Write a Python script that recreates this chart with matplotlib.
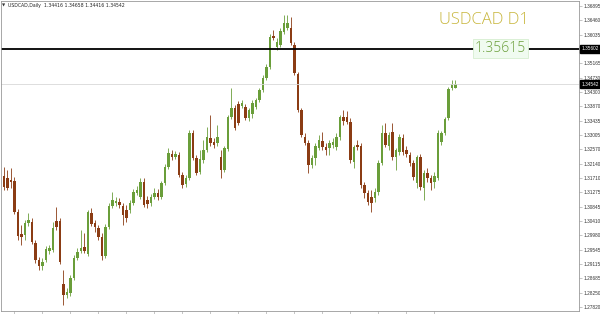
import numpy as np
import matplotlib
matplotlib.use("Agg")
import matplotlib.pyplot as plt

# daily USDCAD candles: open, high, low, close
opens = [1.3177, 1.3171, 1.3165, 1.3162, 1.3068, 1.3002, 1.2999, 1.3035, 1.3038, 1.2975,
         1.2924, 1.2906, 1.2924, 1.2951, 1.2954, 1.3041, 1.3041, 1.2851, 1.2818, 1.2824,
         1.2870, 1.2930, 1.2951, 1.2963, 1.2942, 1.3066, 1.3035, 1.3020, 1.2993, 1.2936,
         1.3023, 1.3087, 1.3096, 1.3099, 1.3087, 1.3075, 1.3075, 1.3096, 1.3126, 1.3114,
         1.3159, 1.3105, 1.3096, 1.3114, 1.3126, 1.3114, 1.3156, 1.3204, 1.3243, 1.3234,
         1.3240, 1.3180, 1.3153, 1.3171, 1.3307, 1.3231, 1.3189, 1.3225, 1.3255, 1.3292,
         1.3280, 1.3277, 1.3234, 1.3195, 1.3258, 1.3355, 1.3382, 1.3394, 1.3388, 1.3385,
         1.3352, 1.3364, 1.3385, 1.3406, 1.3436, 1.3473, 1.3506, 1.3599, 1.3566, 1.3572,
         1.3611, 1.3623, 1.3623, 1.3572, 1.3485, 1.3376, 1.3295, 1.3277, 1.3210, 1.3231,
         1.3261, 1.3282, 1.3264, 1.3261, 1.3270, 1.3264, 1.3295, 1.3355, 1.3355, 1.3340,
         1.3219, 1.3270, 1.3267, 1.3150, 1.3126, 1.3114, 1.3111, 1.3129, 1.3216, 1.3307,
         1.3267, 1.3310, 1.3234, 1.3249, 1.3292, 1.3255, 1.3240, 1.3216, 1.3156, 1.3234,
         1.3141, 1.3186, 1.3171, 1.3159, 1.3171, 1.3280, 1.3307, 1.3352, 1.3442, 1.34416]
highs = [1.3204, 1.3195, 1.3201, 1.3174, 1.3078, 1.3029, 1.3044, 1.3066, 1.3050, 1.2984,
         1.2933, 1.2930, 1.2966, 1.2969, 1.3038, 1.3084, 1.3050, 1.2894, 1.2839, 1.2879,
         1.2939, 1.2960, 1.3014, 1.3005, 1.3075, 1.3081, 1.3044, 1.3029, 1.3005, 1.3032,
         1.3096, 1.3129, 1.3114, 1.3111, 1.3096, 1.3090, 1.3105, 1.3138, 1.3147, 1.3171,
         1.3171, 1.3117, 1.3123, 1.3141, 1.3138, 1.3162, 1.3213, 1.3261, 1.3255, 1.3252,
         1.3249, 1.3189, 1.3180, 1.3316, 1.3316, 1.3240, 1.3255, 1.3286, 1.3325, 1.3361,
         1.3292, 1.3331, 1.3255, 1.3267, 1.3361, 1.3442, 1.3391, 1.3403, 1.3406, 1.3394,
         1.3382, 1.3406, 1.3412, 1.3442, 1.3482, 1.3515, 1.3605, 1.3617, 1.3593, 1.3623,
         1.3662, 1.3662, 1.3656, 1.3581, 1.3491, 1.3382, 1.3307, 1.3286, 1.3240, 1.3277,
         1.3301, 1.3310, 1.3277, 1.3286, 1.3292, 1.3307, 1.3361, 1.3376, 1.3373, 1.3352,
         1.3270, 1.3286, 1.3277, 1.3159, 1.3135, 1.3135, 1.3141, 1.3225, 1.3331, 1.3337,
         1.3310, 1.3337, 1.3261, 1.3304, 1.3304, 1.3267, 1.3249, 1.3225, 1.3240, 1.3243,
         1.3195, 1.3201, 1.3180, 1.3189, 1.3316, 1.3313, 1.3355, 1.3445, 1.3466, 1.34658]
lows = [1.3135, 1.3135, 1.3141, 1.3062, 1.2984, 1.2969, 1.2984, 1.3026, 1.2972, 1.2915,
        1.2894, 1.2894, 1.2918, 1.2942, 1.2948, 1.3014, 1.2912, 1.2788, 1.2809, 1.2815,
        1.2863, 1.2924, 1.2945, 1.2945, 1.2936, 1.3026, 1.3008, 1.2984, 1.2924, 1.2930,
        1.3017, 1.3081, 1.3087, 1.3081, 1.3029, 1.3038, 1.3066, 1.3090, 1.3120, 1.3108,
        1.3084, 1.3081, 1.3087, 1.3108, 1.3105, 1.3108, 1.3150, 1.3198, 1.3225, 1.3228,
        1.3174, 1.3141, 1.3144, 1.3165, 1.3225, 1.3180, 1.3183, 1.3216, 1.3249, 1.3267,
        1.3261, 1.3267, 1.3171, 1.3189, 1.3252, 1.3349, 1.3316, 1.3331, 1.3382, 1.3346,
        1.3343, 1.3352, 1.3379, 1.3400, 1.3430, 1.3466, 1.3500, 1.3587, 1.3557, 1.3566,
        1.3605, 1.3617, 1.3572, 1.3482, 1.3370, 1.3295, 1.3270, 1.3186, 1.3201, 1.3210,
        1.3255, 1.3255, 1.3240, 1.3240, 1.3261, 1.3255, 1.3286, 1.3331, 1.3334, 1.3216,
        1.3201, 1.3255, 1.3141, 1.3111, 1.3090, 1.3068, 1.3099, 1.3120, 1.3210, 1.3264,
        1.3255, 1.3225, 1.3195, 1.3240, 1.3240, 1.3234, 1.3207, 1.3165, 1.3141, 1.3135,
        1.3105, 1.3159, 1.3135, 1.3141, 1.3165, 1.3270, 1.3301, 1.3346, 1.3436, 1.34416]
closes = [1.3144, 1.3141, 1.3159, 1.3068, 1.2996, 1.2993, 1.3035, 1.3044, 1.2978, 1.2924,
          1.2906, 1.2918, 1.2957, 1.2960, 1.3020, 1.3023, 1.2918, 1.2818, 1.2827, 1.2870,
          1.2930, 1.2948, 1.2960, 1.2951, 1.3068, 1.3032, 1.3023, 1.2993, 1.2936, 1.3023,
          1.3087, 1.3105, 1.3102, 1.3090, 1.3059, 1.3050, 1.3096, 1.3129, 1.3135, 1.3159,
          1.3090, 1.3093, 1.3114, 1.3126, 1.3114, 1.3156, 1.3204, 1.3246, 1.3234, 1.3243,
          1.3180, 1.3150, 1.3171, 1.3307, 1.3231, 1.3186, 1.3228, 1.3255, 1.3295, 1.3277,
          1.3270, 1.3295, 1.3195, 1.3261, 1.3355, 1.3382, 1.3322, 1.3337, 1.3397, 1.3352,
          1.3376, 1.3397, 1.3406, 1.3436, 1.3473, 1.3506, 1.3596, 1.3593, 1.3581, 1.3614,
          1.3638, 1.3638, 1.3578, 1.3488, 1.3376, 1.3301, 1.3277, 1.3210, 1.3231, 1.3267,
          1.3286, 1.3264, 1.3255, 1.3277, 1.3280, 1.3295, 1.3355, 1.3343, 1.3340, 1.3225,
          1.3264, 1.3264, 1.3150, 1.3126, 1.3099, 1.3096, 1.3129, 1.3216, 1.3307, 1.3270,
          1.3301, 1.3234, 1.3255, 1.3295, 1.3249, 1.3243, 1.3216, 1.3174, 1.3234, 1.3144,
          1.3186, 1.3171, 1.3156, 1.3177, 1.3307, 1.3307, 1.3349, 1.3439, 1.3454, 1.34542]

price_ticks = [1.36895, 1.36460, 1.36035, 1.35165, 1.34730, 1.34300, 1.33870, 1.33435,
               1.33005, 1.32570, 1.32140, 1.31710, 1.31275, 1.30845, 1.30410, 1.29980,
               1.29545, 1.29115, 1.28685, 1.28250, 1.27820]
hline_price = 1.35602
bid_price = 1.34542
header = "USDCAD,Daily  1.34416 1.34658 1.34416 1.34542"
title = "USDCAD D1"
level_text = "1.35615"

bull_col = "#6a9e3a"
bear_col = "#8b3c14"
small_font = ["Liberation Sans Narrow", "Liberation Sans", "DejaVu Sans"]

o = np.array(opens)
h = np.array(highs)
l = np.array(lows)
c = np.array(closes)
idx = np.arange(len(o))
cols = np.where(c >= o, bull_col, bear_col)

fig = plt.figure(figsize=(6, 3.14), dpi=100)
ax = fig.add_axes([1 / 600, 3 / 314, 578 / 600, 310 / 314])

ax.vlines(idx, l, h, colors=cols, linewidth=0.6)
body_h = np.maximum(np.abs(c - o), 0.00012)
ax.bar(idx, body_h, bottom=np.minimum(o, c), width=0.66, color=cols, linewidth=0)

ax.axhline(hline_price, color="black", linewidth=1.3)
ax.axhline(bid_price, color="#d8d8d8", linewidth=0.6)

ax.set_xlim(-0.857, 164.3)
ax.set_ylim(1.27699, 1.37046)

for s in ax.spines.values():
    s.set_color("#999999")
    s.set_linewidth(0.6)

ax.yaxis.tick_right()
ax.set_yticks(price_ticks)
ax.set_yticklabels([f"{v:.5f}" for v in price_ticks], family=small_font)
ax.tick_params(axis="y", labelsize=3.4, length=2, width=0.4, colors="#999999",
               labelcolor="#333333", pad=1)
ax.set_xticks(np.arange(3, 131, 8))
ax.set_xticklabels([])
ax.tick_params(axis="x", length=2, width=0.4, colors="#999999", direction="out")

# boxed price labels on the right scale
for val in [hline_price, bid_price]:
    ax.text(1.004, val, f"{val:.5f}", transform=ax.get_yaxis_transform(),
            fontsize=3.4, color="white", va="center", ha="left", family=small_font,
            bbox=dict(boxstyle="square,pad=0.3", fc="black", ec="black"), clip_on=False)

fig.text(2 / 600, 1 - 5.5 / 314, "\u25bc", fontsize=3, color="#333333", va="center")
fig.text(8 / 600, 1 - 5.5 / 314, header, fontsize=3.3, color="#222222", va="center")

fig.text(439 / 600, 1 - 20.5 / 314, title, fontsize=12, color="#c8b63c",
         family=["Open Sans", "DejaVu Sans"], fontweight="light", va="center", ha="left")
fig.text(475 / 600, 1 - 48.5 / 314, level_text, fontsize=10, color="#6a9e3a",
         family=["Open Sans", "DejaVu Sans"], fontweight="light", va="center", ha="left",
         bbox=dict(boxstyle="square,pad=0.15", fc="#f0fbf0", ec="#d6eed0", lw=0.6))

fig.savefig("out.png", dpi=100)
